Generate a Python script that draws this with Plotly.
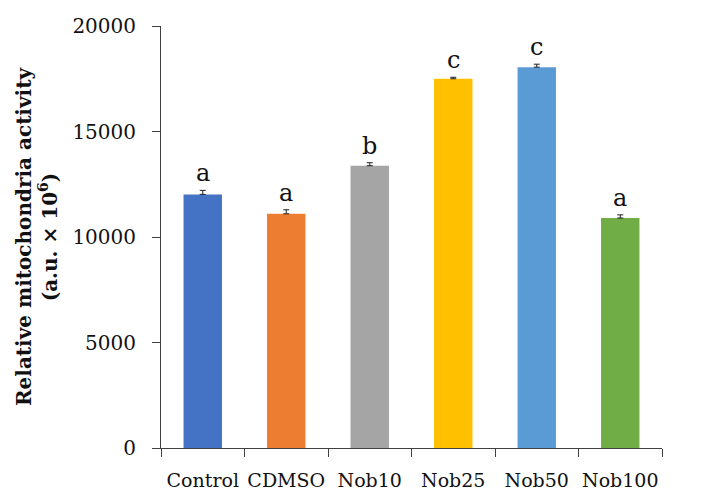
import plotly.graph_objects as go

categories = ["Control", "CDMSO", "Nob10", "Nob25", "Nob50", "Nob100"]
values = [12020, 11100, 13380, 17500, 18050, 10900]
errors = [190, 190, 140, 70, 140, 150]
letters = ["a", "a", "b", "c", "c", "a"]
colors = ["#4472C4", "#ED7D31", "#A5A5A5", "#FFC000", "#5B9BD5", "#70AD47"]
y_ticks = [0, 5000, 10000, 15000, 20000]

serif = "DejaVu Serif"

fig = go.Figure()
fig.add_trace(go.Bar(
    x=categories, y=values,
    marker=dict(color=colors, line=dict(width=0)),
    error_y=dict(type="data", symmetric=False, array=errors,
                 arrayminus=[0] * len(errors), visible=True, color="#202020",
                 thickness=1, width=3),
    width=0.46,
))

for c, v, e, l in zip(categories, values, errors, letters):
    fig.add_annotation(x=c, y=v + e, text=l, showarrow=False,
                       yanchor="bottom", yshift=1,
                       font=dict(family=serif, size=24, color="#111111"))

fig.update_layout(
    width=716, height=492,
    margin=dict(l=161, r=54, t=26, b=44),
    plot_bgcolor="white", paper_bgcolor="white",
    showlegend=False,
    font=dict(family=serif, color="#111111"),
)
fig.update_xaxes(
    showline=True, linecolor="#404040", linewidth=1,
    ticks="outside", tickson="boundaries", ticklen=8, tickcolor="#404040",
    tickfont=dict(family=serif, size=19, color="#111111"),
    tickangle=0, automargin=False, ticklabelstandoff=15,
    showgrid=False,
)
fig.update_yaxes(
    range=[0, 20000], tickvals=y_ticks, ticktext=[str(t) for t in y_ticks],
    showline=True, linecolor="#404040", linewidth=1,
    ticks="outside", ticklen=8, tickcolor="#404040",
    tickfont=dict(family=serif, size=20, color="#111111"),
    ticklabelstandoff=12,
    showgrid=False, zeroline=False, automargin=False,
    title=dict(text="<b>Relative mitochondria activity<br>(a.u. × 10<sup>6</sup>)</b>",
               font=dict(family=serif, size=20, color="#111111"), standoff=9),
)

fig.write_html("out.html")
